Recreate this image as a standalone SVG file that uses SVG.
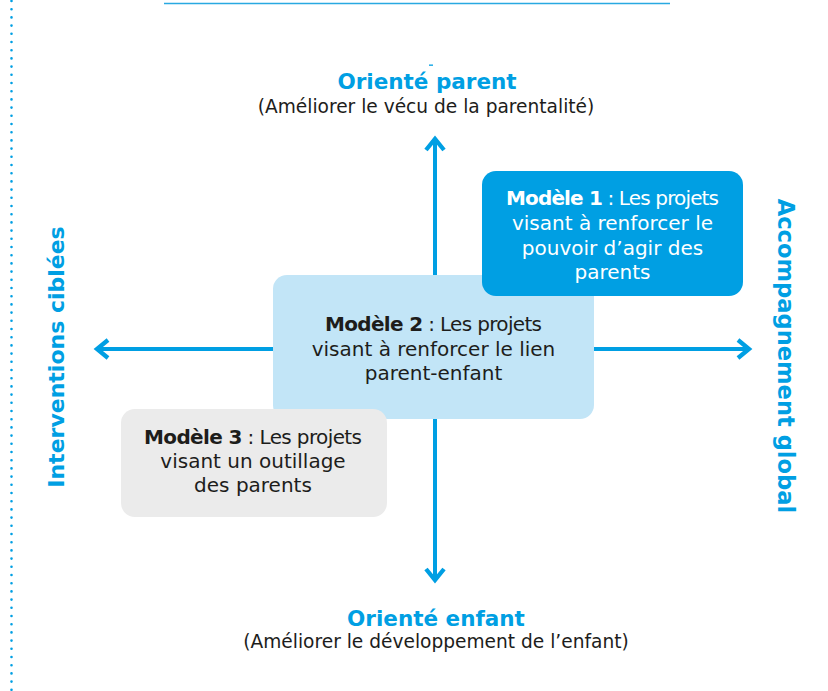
<svg xmlns="http://www.w3.org/2000/svg" width="828" height="691" viewBox="0 0 828 691">
<style>
.t{font-family:"DejaVu Sans","Liberation Sans",sans-serif;}
.b{font-weight:bold;}
.blue{fill:#009FE3;}
.dark{fill:#1d1d1b;}
.box{font-size:20px;text-anchor:middle;}
.axis{stroke:#009FE3;stroke-width:4;fill:none;}
</style>
<defs>
<marker id="ah" markerUnits="userSpaceOnUse" markerWidth="30" markerHeight="30" viewBox="-15 -15 30 30" refX="0" refY="0" orient="auto" overflow="visible">
<path d="M-11,-9 L0,0 L-11,9" fill="none" stroke="#009FE3" stroke-width="4.3"/>
</marker>
</defs>
<rect width="828" height="691" fill="#ffffff"/>
<line x1="11.5" y1="1" x2="11.5" y2="691" stroke="#009FE3" stroke-width="2.6" stroke-linecap="round" stroke-dasharray="0 8.2"/>
<line x1="164" y1="3.5" x2="670" y2="3.5" stroke="#29A9E1" stroke-width="1.6"/>
<rect x="429" y="64.5" width="4" height="1.3" fill="#009FE3"/>
<g id="connectors">
<line class="axis" x1="435" y1="345" x2="435" y2="139" marker-end="url(#ah)"/>
<line class="axis" x1="435" y1="349" x2="435" y2="580" marker-end="url(#ah)"/>
<line class="axis" x1="435" y1="349" x2="97" y2="349" marker-end="url(#ah)"/>
<line class="axis" x1="435" y1="349" x2="749" y2="349" marker-end="url(#ah)"/>
</g>
<g id="label-top">
<text class="t b blue" x="427" y="89" font-size="21.5" text-anchor="middle">Orienté parent</text>
<text class="t dark" x="426" y="113" font-size="18.6" text-anchor="middle">(Améliorer le vécu de la parentalité)</text>
</g>
<g id="label-bottom">
<text class="t b blue" x="436" y="626" font-size="21.5" text-anchor="middle">Orienté enfant</text>
<text class="t dark" x="436" y="648" font-size="18.6" text-anchor="middle">(Améliorer le développement de l’enfant)</text>
</g>
<g id="label-left">
<text class="t b blue" font-size="22" text-anchor="middle" transform="translate(64,357) rotate(-90)">Interventions ciblées</text>
</g>
<g id="label-right">
<text class="t b blue" font-size="22.6" text-anchor="middle" transform="translate(778,356) rotate(90)">Accompagnement global</text>
</g>
<g id="modele2">
<rect x="273" y="275" width="321" height="144" rx="14" fill="#C2E5F7"/>
<text class="t box dark" x="433.5" y="331" textLength="217"><tspan class="b">Modèle 2</tspan> : Les projets</text>
<text class="t box dark" x="433.5" y="355.5">visant à renforcer le lien</text>
<text class="t box dark" x="433.5" y="380">parent-enfant</text>
</g>
<g id="modele1">
<rect x="482" y="171" width="261" height="125" rx="14" fill="#009FE3"/>
<text class="t box" fill="#ffffff" x="612.5" y="205" textLength="213"><tspan class="b">Modèle 1</tspan> : Les projets</text>
<text class="t box" fill="#ffffff" x="612.5" y="230">visant à renforcer le</text>
<text class="t box" fill="#ffffff" x="612.5" y="255">pouvoir d’agir des</text>
<text class="t box" fill="#ffffff" x="612.5" y="279">parents</text>
</g>
<g id="modele3">
<rect x="121" y="409" width="266" height="108" rx="14" fill="#EBEBEB"/>
<text class="t box dark" x="253" y="444" textLength="218"><tspan class="b">Modèle 3</tspan> : Les projets</text>
<text class="t box dark" x="253" y="468">visant un outillage</text>
<text class="t box dark" x="253" y="492">des parents</text>
</g>
</svg>
